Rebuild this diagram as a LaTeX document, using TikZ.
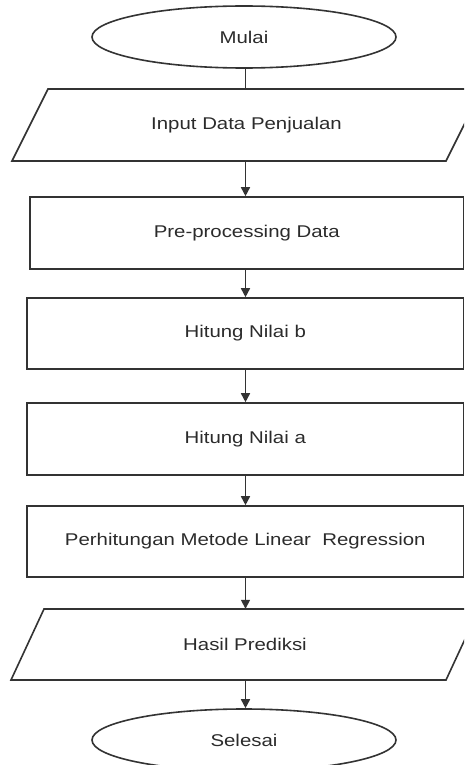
\documentclass[tikz,border=0pt]{standalone}
\usepackage{graphicx}
\usepackage{fontspec}
\setmainfont{Liberation Sans}
\usetikzlibrary{arrows.meta,shapes.geometric}
\definecolor{ln}{HTML}{333333}
\definecolor{tx}{HTML}{2B2B2B}
\newcommand{\wtxt}[1]{\scalebox{1.2}[1]{#1}}
\begin{document}
\begin{tikzpicture}[x=1pt,y=-1pt,
  every node/.style={font=\fontsize{17}{20}\selectfont, text=tx, inner sep=0pt},
  term/.style={ellipse, draw=ln, line width=1.6pt, minimum width=304pt, minimum height=62pt},
  procbox/.style={rectangle, draw=ln, line width=1.6pt},
  iobox/.style={rectangle, minimum width=300pt},
  shapeline/.style={draw=ln, line width=1.6pt, line join=miter},
  conn/.style={draw=ln, line width=1.6pt},
  arr/.style={conn, -{Triangle[width=9pt,length=9pt]}},
]
\useasboundingbox (0,0) rectangle (464,765);
\clip (0,0) rectangle (464,765);

\coordinate (axis) at (245.5,0);

\node[term] (mul) at (244,37) {\wtxt{Mulai}};

\draw[shapeline] (48,89) -- (482,89) -- (446,161) -- (12,161) -- cycle;
\node[iobox, minimum height=72pt] (inp) at (246.5,125) {\wtxt{Input Data Penjualan}};

\node[procbox, minimum width=433.5pt, minimum height=72pt] (pre) at (246.75,233) {\wtxt{Pre-processing Data}};
\node[procbox, minimum width=436.5pt, minimum height=71pt] (hb) at (245.25,333.5) {\wtxt{Hitung Nilai b}};
\node[procbox, minimum width=436.5pt, minimum height=72pt] (ha) at (245.25,439) {\wtxt{Hitung Nilai a}};
\node[procbox, minimum width=436.5pt, minimum height=71pt] (plr) at (245.25,541.5) {\wtxt{Perhitungan Metode Linear\ \ Regression}};

\draw[shapeline] (44,609) -- (479,609) -- (446,680) -- (11,680) -- cycle;
\node[iobox, minimum height=71pt] (has) at (245,644.5) {\wtxt{Hasil Prediksi}};

\node[term] (sel) at (244,740) {\wtxt{Selesai}};

\draw[conn] (axis |- mul.south) -- (axis |- inp.north);
\draw[arr] (axis |- inp.south) -- (axis |- pre.north);
\draw[arr] (axis |- pre.south) -- (axis |- hb.north);
\draw[arr] (axis |- hb.south) -- (axis |- ha.north);
\draw[arr] (axis |- ha.south) -- (axis |- plr.north);
\draw[arr] (axis |- plr.south) -- (axis |- has.north);
\draw[arr] (axis |- has.south) -- (axis |- sel.north);
\end{tikzpicture}
\end{document}
